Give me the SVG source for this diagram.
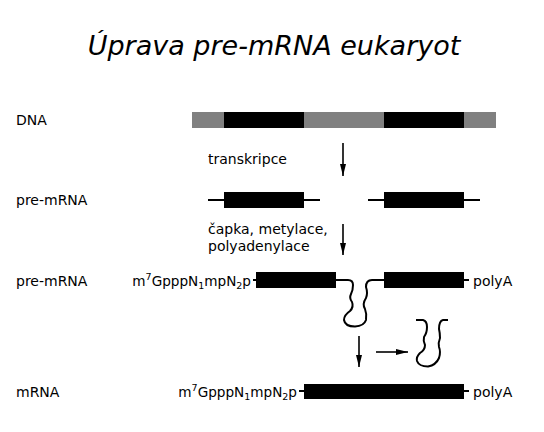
<svg xmlns="http://www.w3.org/2000/svg" width="544" height="432" viewBox="0 0 544 432">
<defs>
<style>
text{font-family:"DejaVu Sans","Liberation Sans",sans-serif;fill:#000}
.lbl{font-size:14px}
.cap{font-size:13.6px;text-anchor:end}
.title{font-size:27px;font-style:italic}
.s{font-size:9.5px}
.ln{stroke:#000;stroke-width:2;fill:none;stroke-linecap:butt;stroke-linejoin:round}
.ex{fill:#000}
.in{fill:#808080}
.arr{stroke:#000;stroke-width:1.6;fill:none}
</style>
<marker id="ah" viewBox="0 0 12 6" refX="12" refY="3" markerWidth="12" markerHeight="6" orient="auto" markerUnits="userSpaceOnUse">
<path d="M0,0 L12,3 L0,6 z" fill="#000"/>
</marker>
</defs>
<rect width="544" height="432" fill="#fff"/>
<text class="title" x="274" y="55" text-anchor="middle">Úprava pre-mRNA eukaryot</text>

<g id="labels">
<text class="lbl" x="16" y="125">DNA</text>
<text class="lbl" x="16" y="205">pre-mRNA</text>
<text class="lbl" x="16" y="286">pre-mRNA</text>
<text class="lbl" x="16" y="397">mRNA</text>
<text class="lbl" x="208" y="164">transkripce</text>
<text class="lbl" x="208" y="234">čapka, metylace,</text>
<text class="lbl" x="208" y="251">polyadenylace</text>
</g>

<g id="dna">
<rect class="in" x="192" y="112" width="304" height="16"/>
<rect class="ex" x="224" y="112" width="80" height="16"/>
<rect class="ex" x="384" y="112" width="80" height="16"/>
</g>

<g id="premrna1">
<line class="ln" x1="208" y1="200" x2="320" y2="200"/>
<rect class="ex" x="224" y="192" width="80" height="16"/>
<line class="ln" x1="368" y1="200" x2="480" y2="200"/>
<rect class="ex" x="384" y="192" width="80" height="16"/>
</g>

<g id="premrna2">
<text class="cap" x="251" y="286">m<tspan class="s" dy="-6">7</tspan><tspan dy="6">GpppN</tspan><tspan class="s" dy="3">1</tspan><tspan dy="-3">mpN</tspan><tspan class="s" dy="3">2</tspan><tspan dy="-3">p</tspan></text>
<line class="ln" x1="253" y1="280" x2="258" y2="280"/>
<rect class="ex" x="256" y="272" width="80" height="16"/>
<path class="ln" d="M336,280 H348 Q353,280 353,285 Q353,290 351,294 Q349,298 352,302 Q354,307 350,311 Q344,315 344,320 Q345,326.5 355,326.5 Q364,326 366,320 Q367,314 365,309 Q362,304 366,298 Q368,293 366,287 Q366,280 372,280 H385"/>
<rect class="ex" x="384" y="272" width="80" height="16"/>
<line class="ln" x1="463" y1="280" x2="469" y2="280"/>
<text class="lbl" x="473" y="286">polyA</text>
</g>

<g id="intron">
<path class="ln" d="M416,320 H423 Q427,321 427,327 Q427,333 424,337 Q423,341 425,345 Q425,350 420,353 Q416,357 417,361 Q419,366.5 428,366.5 Q436,365 439,358 Q441,352 439,347 Q438,343 440,338 Q440,333 439,329 Q439,321 443,320 H448"/>
</g>

<g id="mrna">
<text class="cap" x="297" y="397">m<tspan class="s" dy="-6">7</tspan><tspan dy="6">GpppN</tspan><tspan class="s" dy="3">1</tspan><tspan dy="-3">mpN</tspan><tspan class="s" dy="3">2</tspan><tspan dy="-3">p</tspan></text>
<line class="ln" x1="299" y1="391" x2="305" y2="391"/>
<rect class="ex" x="304" y="384" width="160" height="15"/>
<line class="ln" x1="463" y1="391" x2="469" y2="391"/>
<text class="lbl" x="473" y="397">polyA</text>
</g>

<g id="connectors">
<line class="arr" x1="343" y1="143" x2="343" y2="176" marker-end="url(#ah)"/>
<line class="arr" x1="343" y1="224" x2="343" y2="255" marker-end="url(#ah)"/>
<line class="arr" x1="359" y1="336" x2="359" y2="367" marker-end="url(#ah)"/>
<line class="arr" x1="376" y1="352" x2="408" y2="352" marker-end="url(#ah)"/>
</g>
</svg>
